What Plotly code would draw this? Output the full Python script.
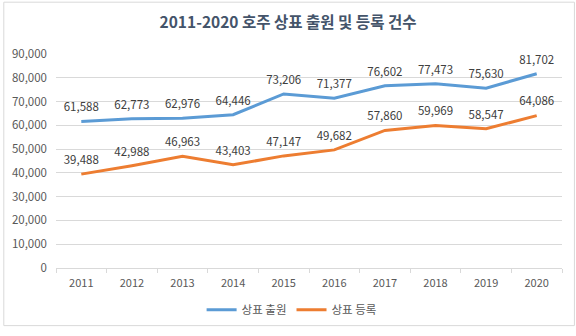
import plotly.graph_objects as go

years = ["2011", "2012", "2013", "2014", "2015", "2016", "2017", "2018", "2019", "2020"]
applications = [61588, 62773, 62976, 64446, 73206, 71377, 76602, 77473, 75630, 81702]
registrations = [39488, 42988, 46963, 43403, 47147, 49682, 57860, 59969, 58547, 64086]
yticks = [0, 10000, 20000, 30000, 40000, 50000, 60000, 70000, 80000, 90000]

FONT = "Noto Sans CJK KR"
W, H = 576, 336
L, R, T, B = 53, 14, 54, 61
pw, ph = W - L - R, H - T - B

fig = go.Figure()
for name, vals, col in [("상표 출원", applications, "#5B9BD5"),
                        ("상표 등록", registrations, "#ED7D31")]:
    fig.add_trace(go.Scatter(
        x=years, y=vals, name=name, mode="lines+markers+text",
        line=dict(color=col, width=3),
        marker=dict(size=10, color="rgba(0,0,0,0)"),
        text=[f"{v:,}" for v in vals], textposition="top center",
        textfont=dict(family=FONT, size=11.5, color="#404040"),
    ))

fig.update_layout(
    width=W, height=H,
    margin=dict(l=L, r=R, t=T, b=B),
    paper_bgcolor="white", plot_bgcolor="white",
    font=dict(family=FONT, size=11, color="#595959"),
    title=dict(text="<b>2011-2020 호주 상표 출원 및 등록 건수</b>",
               x=288 / W, xanchor="center", y=1 - 23 / H, yanchor="middle",
               font=dict(family=FONT, size=15.5, color="#44546A")),
    xaxis=dict(type="category", tickson="boundaries", ticks="outside", ticklen=4,
               tickcolor="#D9D9D9", showline=True, linecolor="#D9D9D9", linewidth=1,
               showgrid=False, range=[-0.5, 9.5], ticklabelstandoff=5,
               tickfont=dict(family=FONT, size=11, color="#595959")),
    yaxis=dict(range=[0, 90000], tickvals=yticks, ticktext=[f"{v:,}" for v in yticks],
               showgrid=True, gridcolor="#D9D9D9", gridwidth=1, zeroline=False,
               showline=False, ticks="", ticklabelstandoff=8,
               tickfont=dict(family=FONT, size=11.5, color="#595959")),
    legend=dict(orientation="h", x=(290 - L) / pw, xanchor="center",
                y=-(318 - (T + ph)) / ph, yanchor="middle",
                font=dict(family=FONT, size=11.5, color="#595959"),
                itemwidth=30, tracegroupgap=0),
    showlegend=True,
)
fig.add_shape(type="rect", xref="paper", yref="paper",
              x0=-(L - 0.5) / pw, x1=1 + (R - 1.5) / pw,
              y0=-(B - 1.5) / ph, y1=1 + (T - 0.5) / ph,
              line=dict(color="#D9D9D9", width=1), layer="below")

fig.write_html("out.html")
